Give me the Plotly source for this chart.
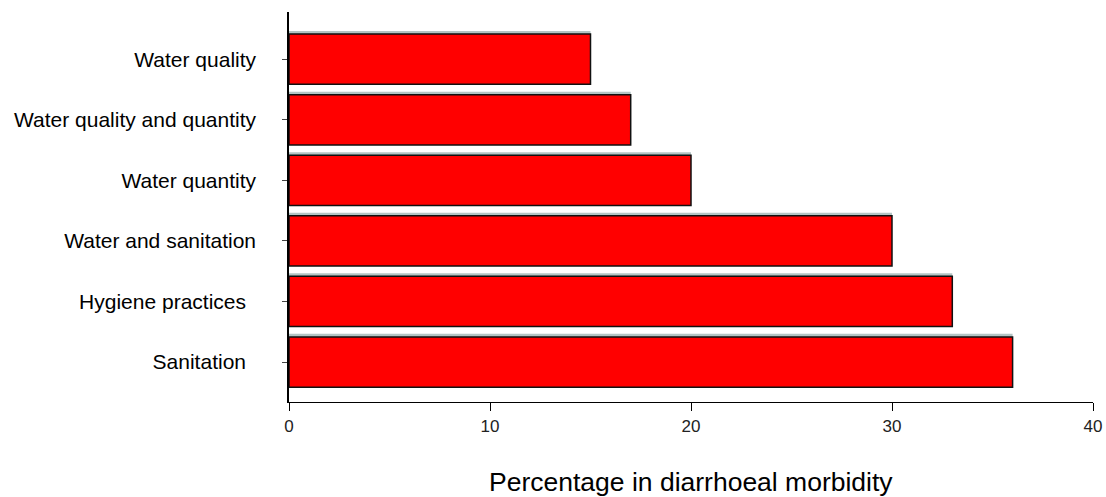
import plotly.graph_objects as go

# Interventions (bottom to top) and reduction in diarrhoeal morbidity (%)
categories = [
    "Sanitation\u00a0\u2009",
    "Hygiene practices\u00a0\u2009",
    "Water and sanitation",
    "Water quantity",
    "Water quality and quantity",
    "Water quality",
]
values = [36, 33, 30, 20, 17, 15]
x_ticks = [0, 10, 20, 30, 40]

BAR_W = 0.83

# plot-area geometry in pixels
W, H = 1106, 497
ML, MR, MT, MB = 289, 13, 12, 95

fig = go.Figure()

# soft grey shadow drawn just above each bar
fig.add_trace(go.Bar(
    y=categories, x=values, orientation="h",
    width=BAR_W, offset=-BAR_W / 2 + 0.05,
    marker=dict(color="#b4c4c4", line=dict(width=0)),
    hoverinfo="skip", showlegend=False,
))

# main red bars with black outline
fig.add_trace(go.Bar(
    y=categories, x=values, orientation="h",
    width=BAR_W, offset=-BAR_W / 2,
    marker=dict(color="#ff0000", line=dict(color="#111111", width=1.5)),
    showlegend=False,
))

plot_h = H - MT - MB

fig.update_layout(
    width=W, height=H,
    margin=dict(l=ML, r=MR, t=MT, b=MB),
    paper_bgcolor="white", plot_bgcolor="white",
    barmode="overlay",
    font=dict(family="Liberation Sans, Arial, sans-serif", color="black"),
    xaxis=dict(
        range=[0, 40], tickvals=x_ticks, ticks="outside", ticklen=8,
        tickcolor="black", showline=True, linecolor="black", linewidth=1.2,
        showgrid=False, zeroline=False, automargin=False,
        tickfont=dict(size=17, color="#222222"),
    ),
    yaxis=dict(
        type="category", categoryorder="array", categoryarray=categories,
        range=[-0.66, 5.78], ticks="outside", ticklen=5, tickcolor="#444444",
        showline=True, linecolor="black", linewidth=1.5, showgrid=False,
        automargin=False,
        tickfont=dict(size=21, color="black"), ticklabelstandoff=22,
    ),
    annotations=[dict(
        text="Percentage in diarrhoeal morbidity",
        x=0.5, y=-(482 - (H - MB)) / plot_h,
        xref="paper", yref="paper", showarrow=False,
        xanchor="center", yanchor="middle",
        font=dict(size=26.5, color="black"),
    )],
)

fig.write_html("out.html")
